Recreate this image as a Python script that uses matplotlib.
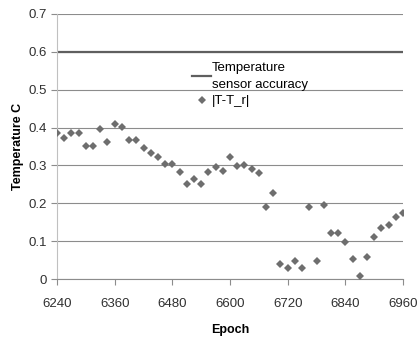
import numpy as np
import matplotlib
matplotlib.use("Agg")
import matplotlib.pyplot as plt

plt.rcParams['font.family'] = ['Liberation Sans', 'DejaVu Sans']

epoch_start = 6240
epoch_step = 15
abs_diff = [0.386, 0.373, 0.386, 0.386, 0.351, 0.351, 0.397, 0.363, 0.409, 0.401,
            0.367, 0.367, 0.345, 0.334, 0.323, 0.303, 0.305, 0.282, 0.251, 0.263,
            0.251, 0.283, 0.297, 0.285, 0.322, 0.298, 0.302, 0.291, 0.279, 0.191,
            0.227, 0.040, 0.029, 0.047, 0.029, 0.191, 0.047, 0.195, 0.121, 0.121,
            0.098, 0.054, 0.008, 0.057, 0.111, 0.135, 0.143, 0.164, 0.175]
epochs = [epoch_start + epoch_step * i for i in range(len(abs_diff))]
accuracy = 0.6
x_ticks = [6240, 6360, 6480, 6600, 6720, 6840, 6960]
y_ticks = [0, 0.1, 0.2, 0.3, 0.4, 0.5, 0.6, 0.7]
y_labels = ['0', '0.1', '0.2', '0.3', '0.4', '0.5', '0.6', '0.7']

fig = plt.figure(figsize=(4.19, 3.43), dpi=100)
ax = fig.add_axes([57/419, 1 - 279/343, 346/419, 265/343])

ax.set_xlim(6240, 6960)
ax.set_ylim(0, 0.7)
ax.set_xticks(x_ticks)
ax.set_yticks(y_ticks)
ax.set_yticklabels(y_labels)
ax.yaxis.grid(True, color='#8c8c8c', linewidth=0.8)
ax.set_axisbelow(True)

ax.axhline(accuracy, color='#5f5f5f', linewidth=1.6, label='Temperature\nsensor accuracy', zorder=2)
ax.plot(epochs, abs_diff, linestyle='none', marker='D', markersize=3.8, markeredgewidth=0,
        color='#6e6e6e', label='|T-T_r|', zorder=3)

for s in ['top', 'right']:
    ax.spines[s].set_visible(False)
ax.spines['left'].set_color('#c0c0c0')
ax.spines['bottom'].set_color('#8c8c8c')
ax.tick_params(axis='both', labelsize=9.5, colors='#8c8c8c', labelcolor='#303030', length=4)
ax.tick_params(axis='x', pad=10)

ax.set_xlabel('Epoch', fontsize=9, fontweight='bold', labelpad=10)
ax.set_ylabel('Temperature C', fontsize=9, fontweight='bold', labelpad=3)

leg = ax.legend(loc='upper left', bbox_to_anchor=(0.37, 0.845), frameon=False,
                fontsize=9.5, handlelength=1.5, handletextpad=0.05, borderpad=0,
                labelspacing=0.35)
for t in leg.get_texts():
    t.set_linespacing(1.55)

fig.savefig('out.png', dpi=100)
